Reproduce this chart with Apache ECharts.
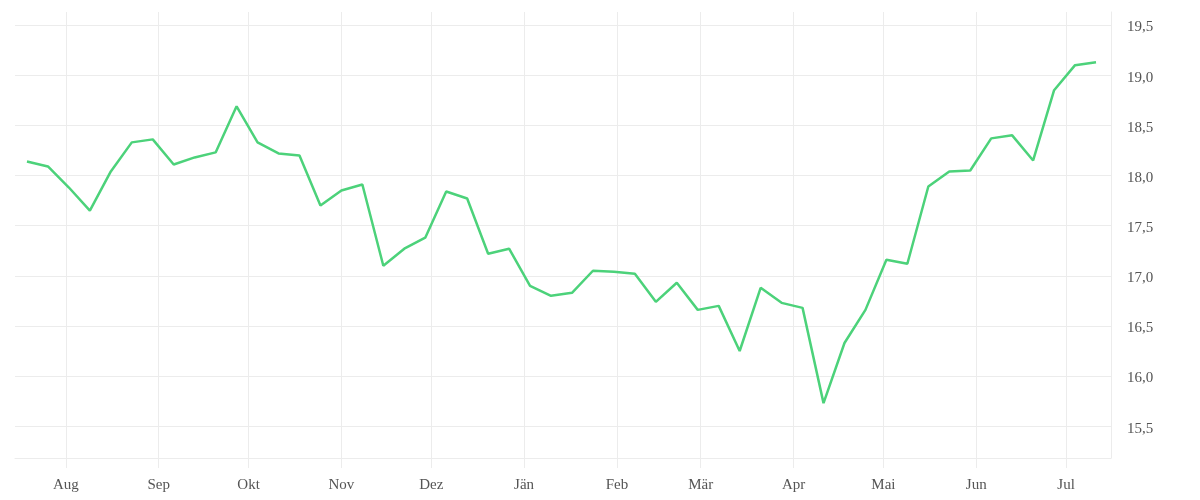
<!DOCTYPE html>
<html>
<head>
<meta charset="utf-8">
<script src="https://cdn.jsdelivr.net/npm/echarts@6/dist/echarts.min.js"></script>
<style>
  html, body { margin: 0; padding: 0; background: #fff; }
  #chart { width: 1200px; height: 500px; }
</style>
</head>
<body>
<div id="chart"></div>
<script>
// Wochenwerte
var dates = [
    '2024-07-19', '2024-07-26', '2024-08-02', '2024-08-09', '2024-08-16', '2024-08-23', '2024-08-30',
    '2024-09-06', '2024-09-13', '2024-09-20', '2024-09-27', '2024-10-04', '2024-10-11', '2024-10-18',
    '2024-10-25', '2024-11-01', '2024-11-08', '2024-11-15', '2024-11-22', '2024-11-29', '2024-12-06',
    '2024-12-13', '2024-12-20', '2024-12-27', '2025-01-03', '2025-01-10', '2025-01-17', '2025-01-24',
    '2025-01-31', '2025-02-07', '2025-02-14', '2025-02-21', '2025-02-28', '2025-03-07', '2025-03-14',
    '2025-03-21', '2025-03-28', '2025-04-04', '2025-04-11', '2025-04-18', '2025-04-25', '2025-05-02',
    '2025-05-09', '2025-05-16', '2025-05-23', '2025-05-30', '2025-06-06', '2025-06-13', '2025-06-20',
    '2025-06-27', '2025-07-04', '2025-07-11'
];
var values = [
    18.14, 18.09, 17.88, 17.65, 18.04, 18.33, 18.36,
    18.11, 18.18, 18.23, 18.69, 18.33, 18.22, 18.20,
    17.70, 17.85, 17.91, 17.10, 17.27, 17.38, 17.84,
    17.77, 17.22, 17.27, 16.90, 16.80, 16.83, 17.05,
    17.04, 17.02, 16.74, 16.93, 16.66, 16.70, 16.25,
    16.88, 16.73, 16.68, 15.73, 16.33, 16.66, 17.16,
    17.12, 17.89, 18.04, 18.05, 18.37, 18.40, 18.15,
    18.85, 19.10, 19.13
];
var monthNames = ['Jän', 'Feb', 'Mär', 'Apr', 'Mai', 'Jun', 'Jul', 'Aug', 'Sep', 'Okt', 'Nov', 'Dez'];

var seriesData = [];
for (var i = 0; i < dates.length; i++) {
    seriesData.push([dates[i], values[i]]);
}

var DAY = 24 * 3600 * 1000;
var chart = echarts.init(document.getElementById('chart'));

var option = {
    animation: false,
    backgroundColor: '#fff',
    textStyle: { fontFamily: 'Liberation Serif' },
    grid: { left: 15, right: 89, top: 12, bottom: 42, containLabel: false },
    xAxis: {
        type: 'time',
        min: '2024-07-15',
        max: '2025-07-16',
        splitNumber: 12,
        minInterval: 28 * DAY,
        maxInterval: 31 * DAY,
        axisLine: { show: true, lineStyle: { color: '#ececec', width: 1 } },
        axisTick: { show: true, length: 10, lineStyle: { color: '#ececec' } },
        splitLine: { show: true, showMinLine: false, lineStyle: { color: '#ececec', width: 1 } },
        axisLabel: {
            color: '#555',
            fontSize: 15,
            fontFamily: 'Liberation Serif',
            margin: 20,
            formatter: function (value) {
                return monthNames[new Date(value).getMonth()];
            }
        }
    },
    yAxis: {
        type: 'value',
        position: 'right',
        min: 15.183,
        max: 19.63,
        splitNumber: 9,
        axisLine: { show: true, lineStyle: { color: '#ececec', width: 1 } },
        axisTick: { show: false },
        splitLine: { show: true, showMaxLine: false, lineStyle: { color: '#ececec', width: 1 } },
        axisLabel: {
            color: '#555',
            fontSize: 15,
            fontFamily: 'Liberation Serif',
            margin: 16,
            verticalAlign: 'top',
            lineHeight: 5,
            showMinLabel: false,
            showMaxLabel: false,
            formatter: function (value) {
                return value.toFixed(1).replace('.', ',');
            }
        }
    },
    series: [{
        type: 'line',
        data: seriesData,
        showSymbol: false,
        symbol: 'none',
        lineStyle: { color: '#4cd27a', width: 2.5 },
        itemStyle: { color: '#4cd27a' }
    }]
};

chart.setOption(option);
</script>
</body>
</html>
